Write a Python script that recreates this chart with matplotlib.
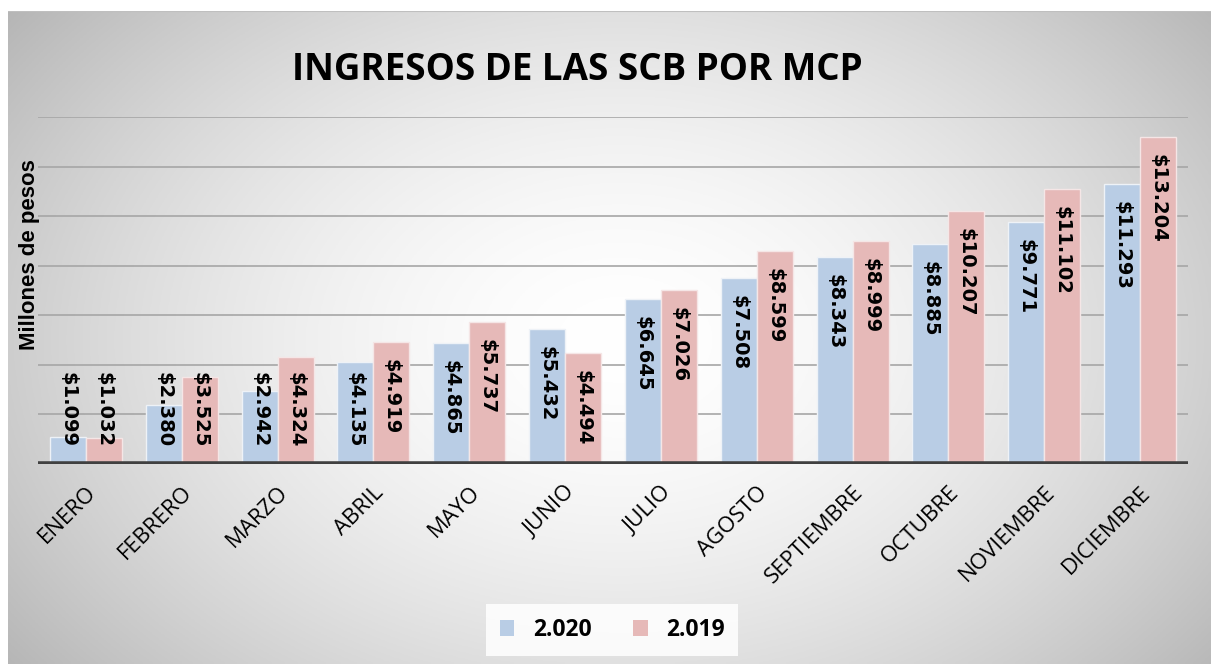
import numpy as np
import matplotlib
matplotlib.use("Agg")
import matplotlib.pyplot as plt
from matplotlib.patches import Patch

months = ["ENERO", "FEBRERO", "MARZO", "ABRIL", "MAYO", "JUNIO", "JULIO",
          "AGOSTO", "SEPTIEMBRE", "OCTUBRE", "NOVIEMBRE", "DICIEMBRE"]
v2020 = [1.099, 2.380, 2.942, 4.135, 4.865, 5.432, 6.645, 7.508, 8.343, 8.885, 9.771, 11.293]
v2019 = [1.032, 3.525, 4.324, 4.919, 5.737, 4.494, 7.026, 8.599, 8.999, 10.207, 11.102, 13.204]
series_names = ["2.020", "2.019"]
title = "INGRESOS DE LAS SCB POR MCP"
ylabel = "Millones de pesos"

C2020 = "#b9cde5"
C2019 = "#e6b9b8"

W, H = 1211, 664
fig = plt.figure(figsize=(W / 100, H / 100), dpi=100)
fig.patch.set_facecolor("white")

# background gradient panel
bg = fig.add_axes([8 / W, 0, 1 - 8 / W, 1 - 11 / H], zorder=-5)
bg.set_axis_off()
nx, ny = 400, 220
xs = np.linspace(8, W, nx)
ys = np.linspace(11, H, ny)
X, Y = np.meshgrid(xs, ys)
t = np.sqrt(((X - 620) / 640) ** 2 + ((Y - 340) / 450) ** 2)
g = 1 - 0.21 * np.clip(t, 0, 1.25) ** 1.7
img = np.dstack([g, g, g])
bg.imshow(img, aspect="auto", extent=[0, 1, 0, 1], origin="upper")
bg.plot([0, 1], [1, 1], color="#bfbfbf", lw=1.5, transform=bg.transAxes)

ax = fig.add_axes([38 / W, 1 - 464 / H, (1188 - 38) / W, (464 - 117) / H])
ax.set_facecolor("none")
ax.set_xlim(-0.5, 11.5)
ax.set_ylim(0, 14)
for s in ax.spines.values():
    s.set_visible(False)
ax.set_yticks([])
for yv in range(2, 15, 2):
    ax.axhline(yv, color="#a6a6a6", lw=1.2, zorder=0)

x = np.arange(len(months))
bw = 0.375
b1 = ax.bar(x - bw / 2, v2020, bw, color=C2020, edgecolor="#eef2f7", lw=1, zorder=2)
b2 = ax.bar(x + bw / 2, v2019, bw, color=C2019, edgecolor="#f5e6e6", lw=1, zorder=2)
ax.axhline(0, color="#404040", lw=4, zorder=3)

ax.set_xticks(x)
ax.set_xticklabels(months, rotation=45, ha="right", rotation_mode="anchor",
                   fontsize=16, family="Open Sans")
ax.tick_params(axis="x", length=0, pad=13)

# data labels
texts = []
for bars, vals in ((b1, v2020), (b2, v2019)):
    for rect, v in zip(bars, vals):
        cx = rect.get_x() + rect.get_width() / 2
        tx = ax.text(cx, v, f"${v:.3f}", rotation=-90, ha="center", va="top",
                     fontsize=14, fontweight="bold", family="DejaVu Sans",
                     color="black", zorder=4)
        texts.append((tx, v))

fig.canvas.draw()
r = fig.canvas.get_renderer()
ax_h_px = ax.get_window_extent().height
dpp = 14 / ax_h_px
for tx, v in texts:
    ext = tx.get_window_extent(r)
    L = ext.height * dpp
    top = v - 17 * dpp
    min_top = 17 * dpp + L
    tx.set_y(max(top, min_top))

fig.text(577 / W, 1 - 70 / H, title, ha="center", va="center",
         fontsize=26.5, fontweight="bold", family="Open Sans")
fig.text(30 / W, 1 - 255 / H, ylabel, rotation=90, ha="center", va="center",
         fontsize=16, fontweight="bold", family="Liberation Sans")

handles = [Patch(facecolor=C2020, edgecolor="none"), Patch(facecolor=C2019, edgecolor="none")]
leg = fig.legend(handles, series_names, loc="center", bbox_to_anchor=(612 / W, 1 - 630 / H),
                 ncol=2, frameon=True, fancybox=False, handlelength=0.65, handleheight=0.65,
                 handletextpad=0.8, columnspacing=1.8, borderpad=0.6,
                 prop={"family": "Open Sans", "weight": "bold", "size": 16.5})
leg.get_frame().set_facecolor("white")
leg.get_frame().set_alpha(0.85)
leg.get_frame().set_edgecolor("none")

fig.savefig("out.png", dpi=100)
